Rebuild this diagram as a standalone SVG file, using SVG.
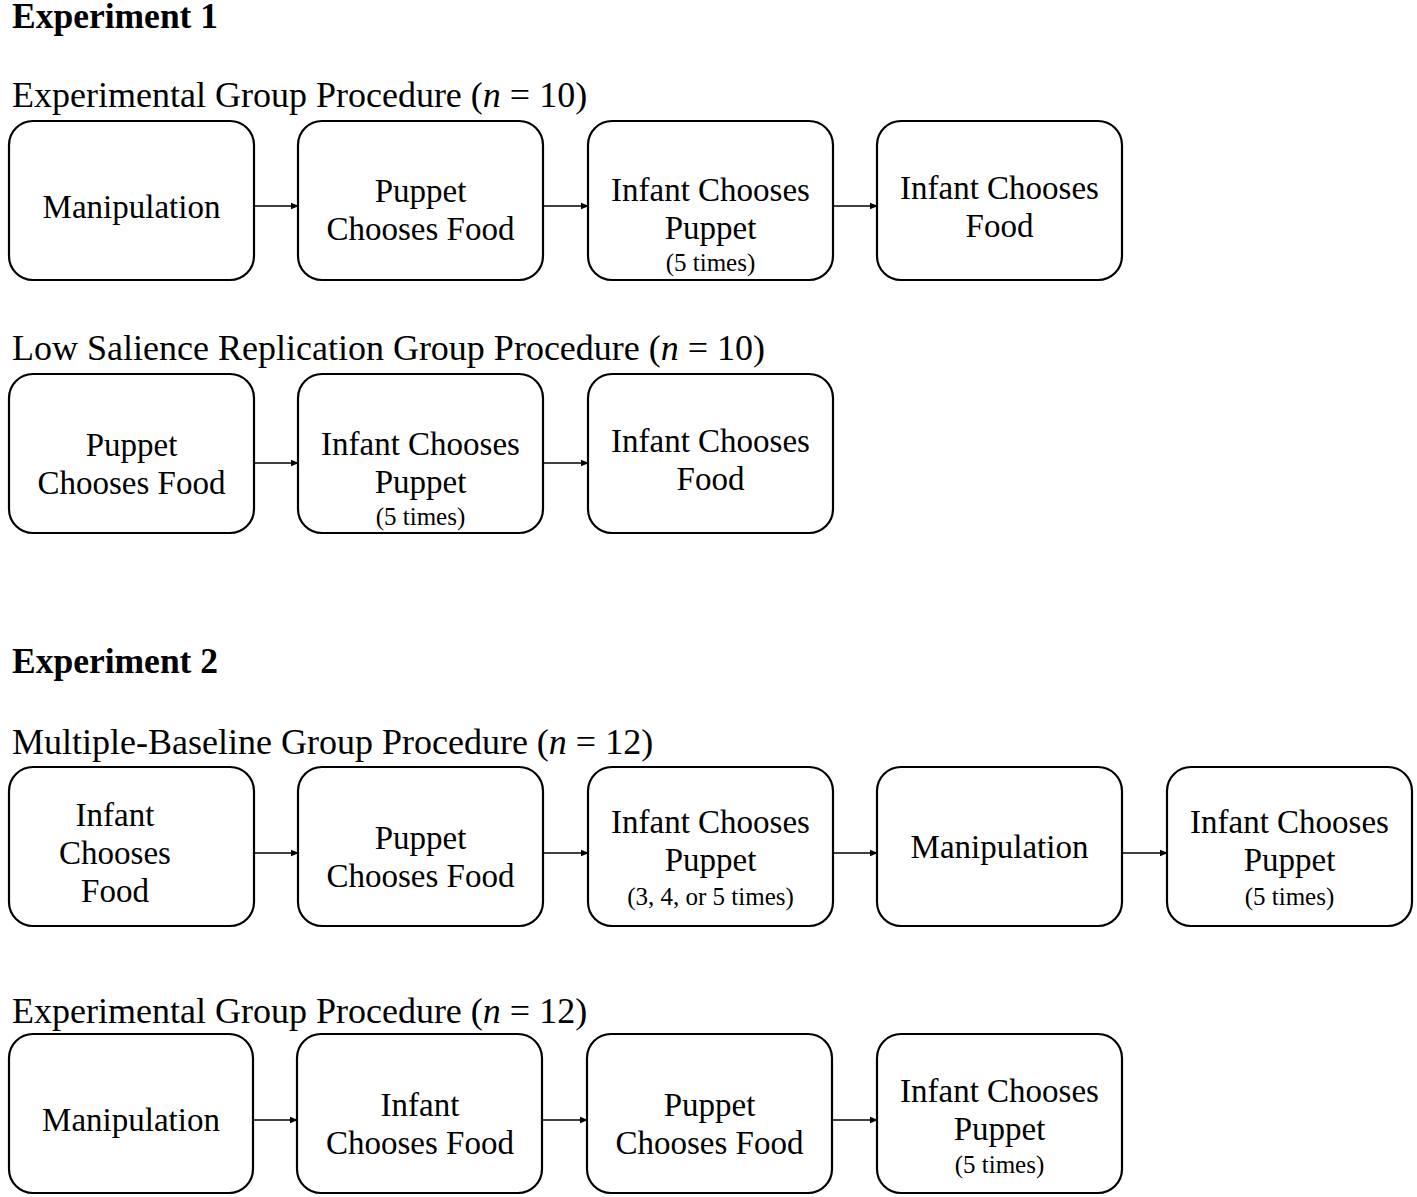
<svg xmlns="http://www.w3.org/2000/svg" width="1417" height="1197" viewBox="0 0 1417 1197">
<style>
text{font-family:"Liberation Serif","Times New Roman",serif;fill:#000}
.h{font-weight:bold;font-size:35.5px}
.t{font-size:36px}
.b{font-size:33px;text-anchor:middle}
.s{font-size:25px;text-anchor:middle}
rect{fill:#fff;stroke:#000;stroke-width:2.2}
.c line{stroke:#000;stroke-width:1.4;marker-end:url(#a)}
</style>
<defs>
<marker id="a" markerWidth="8" markerHeight="8" refX="7" refY="4" orient="auto" markerUnits="userSpaceOnUse">
<path d="M0,0.8 L8,4 L0,7.2 Z" fill="#000"/>
</marker>
</defs>
<rect x="0" y="0" width="1417" height="1197" style="stroke:none"/>
<text class="h" x="12" y="28">Experiment 1</text>
<text class="t" x="12" y="107">Experimental Group Procedure (<tspan font-style="italic">n</tspan> = 10)</text>
<text class="t" x="12" y="360">Low Salience Replication Group Procedure (<tspan font-style="italic">n</tspan> = 10)</text>
<text class="h" x="12" y="673">Experiment 2</text>
<text class="t" x="12" y="754">Multiple-Baseline Group Procedure (<tspan font-style="italic">n</tspan> = 12)</text>
<text class="t" x="12" y="1023">Experimental Group Procedure (<tspan font-style="italic">n</tspan> = 12)</text>

<g id="e1a1"><rect x="9" y="121" width="245" height="159" rx="24"/><text class="b" x="131.5" y="218">Manipulation</text></g>
<g id="e1a2"><rect x="298" y="121" width="245" height="159" rx="24"/><text class="b" x="420.5" y="202">Puppet</text><text class="b" x="420.5" y="240">Chooses Food</text></g>
<g id="e1a3"><rect x="588" y="121" width="245" height="159" rx="24"/><text class="b" x="710.5" y="201">Infant Chooses</text><text class="b" x="710.5" y="239">Puppet</text><text class="s" x="710.5" y="271">(5 times)</text></g>
<g id="e1a4"><rect x="877" y="121" width="245" height="159" rx="24"/><text class="b" x="999.5" y="199">Infant Chooses</text><text class="b" x="999.5" y="237">Food</text></g>

<g id="e1b1"><rect x="9" y="374" width="245" height="159" rx="24"/><text class="b" x="131.5" y="456">Puppet</text><text class="b" x="131.5" y="494">Chooses Food</text></g>
<g id="e1b2"><rect x="298" y="374" width="245" height="159" rx="24"/><text class="b" x="420.5" y="455">Infant Chooses</text><text class="b" x="420.5" y="493">Puppet</text><text class="s" x="420.5" y="525">(5 times)</text></g>
<g id="e1b3"><rect x="588" y="374" width="245" height="159" rx="24"/><text class="b" x="710.5" y="452">Infant Chooses</text><text class="b" x="710.5" y="490">Food</text></g>

<g id="e2a1"><rect x="9" y="767" width="245" height="159" rx="24"/><text class="b" x="115" y="826">Infant</text><text class="b" x="115" y="864">Chooses</text><text class="b" x="115" y="902">Food</text></g>
<g id="e2a2"><rect x="298" y="767" width="245" height="159" rx="24"/><text class="b" x="420.5" y="849">Puppet</text><text class="b" x="420.5" y="887">Chooses Food</text></g>
<g id="e2a3"><rect x="588" y="767" width="245" height="159" rx="24"/><text class="b" x="710.5" y="833">Infant Chooses</text><text class="b" x="710.5" y="871">Puppet</text><text class="s" x="710.5" y="905">(3, 4, or 5 times)</text></g>
<g id="e2a4"><rect x="877" y="767" width="245" height="159" rx="24"/><text class="b" x="999.5" y="858">Manipulation</text></g>
<g id="e2a5"><rect x="1167" y="767" width="245" height="159" rx="24"/><text class="b" x="1289.5" y="833">Infant Chooses</text><text class="b" x="1289.5" y="871">Puppet</text><text class="s" x="1289.5" y="905">(5 times)</text></g>

<g id="e2b1"><rect x="9" y="1034" width="244" height="159" rx="24"/><text class="b" x="131" y="1131">Manipulation</text></g>
<g id="e2b2"><rect x="297" y="1034" width="245" height="159" rx="24"/><text class="b" x="420" y="1116">Infant</text><text class="b" x="420" y="1154">Chooses Food</text></g>
<g id="e2b3"><rect x="587" y="1034" width="245" height="159" rx="24"/><text class="b" x="709.5" y="1116">Puppet</text><text class="b" x="709.5" y="1154">Chooses Food</text></g>
<g id="e2b4"><rect x="877" y="1034" width="245" height="159" rx="24"/><text class="b" x="999.5" y="1102">Infant Chooses</text><text class="b" x="999.5" y="1140">Puppet</text><text class="s" x="999.5" y="1173">(5 times)</text></g>

<g class="c" id="connectors">
<line x1="255" y1="206" x2="298" y2="206"/>
<line x1="544" y1="206" x2="588" y2="206"/>
<line x1="834" y1="206" x2="877" y2="206"/>
<line x1="255" y1="463" x2="298" y2="463"/>
<line x1="544" y1="463" x2="588" y2="463"/>
<line x1="255" y1="853" x2="298" y2="853"/>
<line x1="544" y1="853" x2="588" y2="853"/>
<line x1="834" y1="853" x2="877" y2="853"/>
<line x1="1123" y1="853" x2="1167" y2="853"/>
<line x1="254" y1="1120" x2="297" y2="1120"/>
<line x1="543" y1="1120" x2="587" y2="1120"/>
<line x1="833" y1="1120" x2="877" y2="1120"/>
</g>
</svg>
